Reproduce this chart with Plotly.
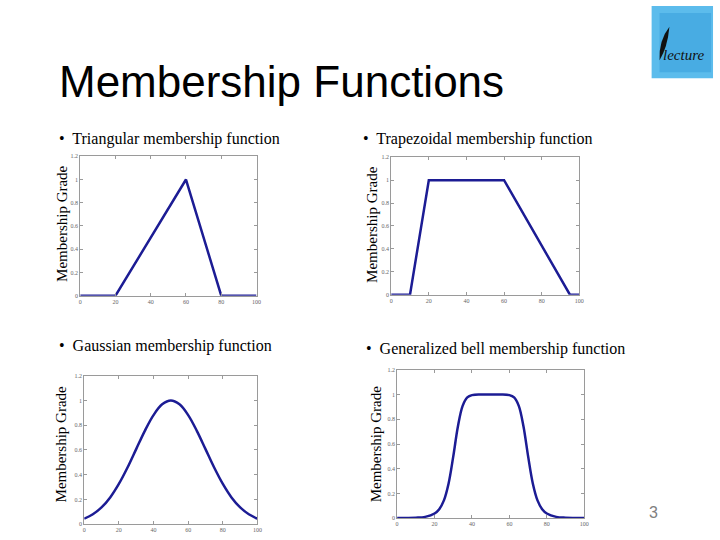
import plotly.graph_objects as go

# ---- data ----
tri_x = [0, 20, 60, 80, 100]
tri_y = [0, 0, 1, 0, 0]

trap_x = [0, 10, 20, 60, 95, 100]
trap_y = [0, 0, 1, 1, 0, 0]

gauss_x = [0, 5, 10, 15, 20, 25, 30, 35, 40, 45, 50, 55, 60, 65, 70, 75, 80, 85, 90, 95, 100]
gauss_y = [0.044, 0.080, 0.135, 0.216, 0.325, 0.458, 0.607, 0.755, 0.882, 0.969, 1.0,
           0.969, 0.882, 0.755, 0.607, 0.458, 0.325, 0.216, 0.135, 0.080, 0.044]

bell_x = [0, 5, 10, 15, 20, 22.5, 25, 27.5, 30, 32.5, 35, 37.5, 40, 45, 50,
          55, 60, 62.5, 65, 67.5, 70, 72.5, 75, 77.5, 80, 85, 90, 95, 100]
bell_y = [0.001, 0.002, 0.004, 0.011, 0.038, 0.073, 0.144, 0.281, 0.5, 0.744, 0.909, 0.977, 0.996, 1.0, 1.0,
          1.0, 0.996, 0.977, 0.909, 0.744, 0.5, 0.281, 0.144, 0.073, 0.038, 0.011, 0.004, 0.002, 0.001]

x_ticks = [0, 20, 40, 60, 80, 100]
y_ticks = [0, 0.2, 0.4, 0.6, 0.8, 1, 1.2]
y_tick_text = ["0", "0.2", "0.4", "0.6", "0.8", "1", "1.2"]

titles = ["Triangular membership function", "Trapezoidal membership function",
          "Gaussian membership function", "Generalized bell membership function"]

W, H = 720, 540
LINE = "#1c1c94"

def px(x):
    return x / W

def py(y):
    return 1 - y / H

# plot boxes in pixels: left, right, top, bottom
boxes = [(79, 257, 155, 296), (393, 583, 156, 295), (83, 258, 377, 527), (399, 588, 371, 521)]
series = [(tri_x, tri_y, "linear"), (trap_x, trap_y, "linear"),
          (gauss_x, gauss_y, "spline"), (bell_x, bell_y, "spline")]

fig = go.Figure()
layout = {}
for i, ((l, r, t, b), (xs, ys, shape)) in enumerate(zip(boxes, series)):
    n = "" if i == 0 else str(i + 1)
    fig.add_trace(go.Scatter(x=xs, y=ys, mode="lines", line=dict(color=LINE, width=2.5, shape=shape),
                             xaxis="x" + n, yaxis="y" + n, showlegend=False, hoverinfo="skip"))
    common = dict(showline=True, linecolor="#9a9a9a", linewidth=1, mirror="ticks", ticks="inside",
                  ticklen=3, tickcolor="#9a9a9a", showgrid=False, zeroline=False,
                  tickfont=dict(family="Liberation Serif", size=6, color="#666"))
    layout["xaxis" + n] = dict(domain=[px(l), px(r)], range=[0, 100], tickvals=x_ticks,
                               anchor="y" + n, **common)
    layout["yaxis" + n] = dict(domain=[py(b), py(t)], range=[0, 1.2], tickvals=y_ticks,
                               ticktext=y_tick_text, anchor="x" + n, **common)
fig.update_layout(**layout)

ann = []
# title
ann.append(dict(x=px(56), y=py(79), xref="paper", yref="paper", xanchor="left", yanchor="middle",
                text="Membership Functions", showarrow=False,
                font=dict(family="Liberation Sans", size=44, color="black")))
# bullets
bullet_pos = [(56, 138), (363, 138), (56, 347), (366, 350)]
for (bx, by), t in zip(bullet_pos, titles):
    ann.append(dict(x=px(bx), y=py(by), xref="paper", yref="paper", xanchor="left", yanchor="middle",
                    text="•  " + t, showarrow=False,
                    font=dict(family="Liberation Serif", size=16, color="black")))
# y labels
ylab_pos = [(60, 223), (373, 224), (60, 446), (378, 446)]
for lx, ly in ylab_pos:
    ann.append(dict(x=px(lx), y=py(ly), xref="paper", yref="paper", xanchor="center", yanchor="middle",
                    text="Membership Grade", showarrow=False, textangle=-90,
                    font=dict(family="Liberation Serif", size=15, color="black")))
# page number
ann.append(dict(x=px(658), y=py(515), xref="paper", yref="paper", xanchor="center", yanchor="middle",
                text="3", showarrow=False, font=dict(family="Liberation Sans", size=16, color="#7f7f7f")))
# logo text
ann.append(dict(x=px(688), y=py(53), xref="paper", yref="paper", xanchor="center", yanchor="middle",
                text="<i>lecture</i>", showarrow=False, font=dict(family="Liberation Serif", size=15, color="#111")))

shapes = [
    dict(type="rect", xref="paper", yref="paper", x0=px(656), x1=px(718), y0=py(76), y1=py(3),
         fillcolor="#5cbcec", line=dict(width=0), layer="below"),
    dict(type="rect", xref="paper", yref="paper", x0=px(664), x1=px(716), y0=py(70), y1=py(10),
         fillcolor="#3aa2de", line=dict(width=0), layer="below", opacity=0.6),
    dict(type="path", xref="paper", yref="paper",
         path=f"M {px(664)} {py(58)} Q {px(663)} {py(38)} {px(674)} {py(24)} Q {px(672)} {py(45)} {px(664)} {py(58)} Z",
         fillcolor="#111", line=dict(width=0)),
]

fig.update_layout(annotations=ann, shapes=shapes, width=W, height=H,
                  margin=dict(l=0, r=0, t=0, b=0), paper_bgcolor="white", plot_bgcolor="white")
fig.write_html("out.html")
